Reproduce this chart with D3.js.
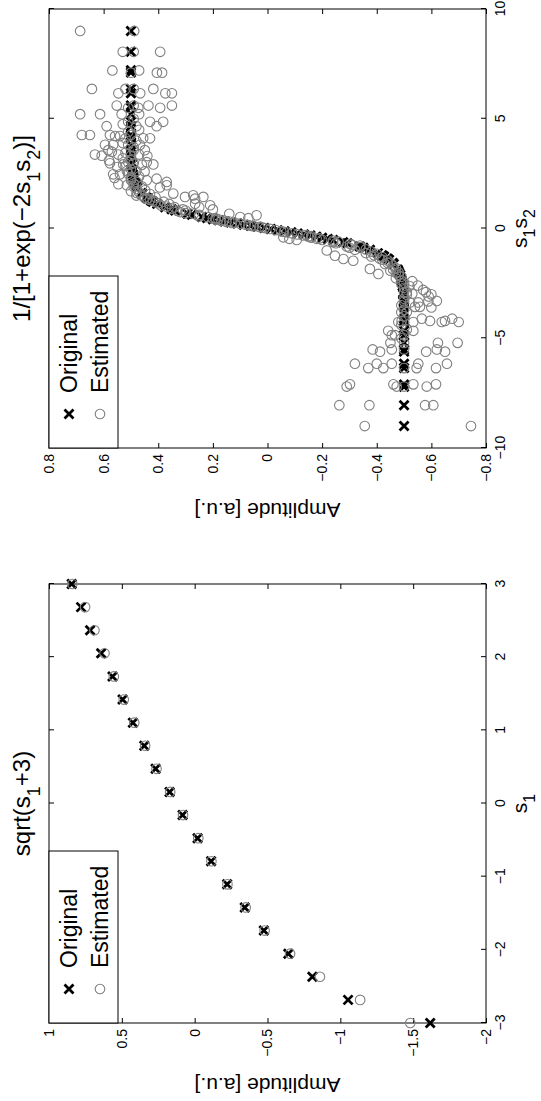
<!DOCTYPE html>
<html>
<head>
<meta charset="utf-8">
<script src="https://cdn.jsdelivr.net/npm/d3@7"></script>
<style>
  body { margin: 0; background: #fff; }
  svg text { font-family: "Liberation Sans", Arial, Helvetica, sans-serif; }
</style>
</head>
<body>
<svg width="541" height="1101"></svg>
<script>
// ---- data: left panel, sqrt(s1+3) ----
var s1Values = [-3, -2.684, -2.368, -2.053, -1.737, -1.421, -1.105, -0.789, -0.474, -0.158,
                0.158, 0.474, 0.789, 1.105, 1.421, 1.737, 2.053, 2.368, 2.684, 3];
var sqrtOriginal = [-1.617, -1.053, -0.808, -0.643, -0.475, -0.344, -0.223, -0.113, -0.02, 0.083,
                    0.172, 0.268, 0.346, 0.424, 0.495, 0.564, 0.642, 0.718, 0.78, 0.844];
var sqrtEstimated = [-1.48, -1.136, -0.86, -0.655, -0.48, -0.35, -0.225, -0.115, -0.025, 0.08,
                     0.168, 0.262, 0.34, 0.415, 0.487, 0.555, 0.619, 0.688, 0.752, 0.84];
var sqrtXTicks = [-3, -2, -1, 0, 1, 2, 3];
var sqrtYTicks = [-2, -1.5, -1, -0.5, 0, 0.5, 1];

// ---- data: right panel, 1/[1+exp(-2 s1 s2)] ----
var prodOriginal = [0.025, 0.075, 0.125, 0.175, 0.224, 0.274, 0.324, 0.374, 0.424, 0.474,
  0.524, 0.623, 0.673, 0.823, 0.873, 0.972, 1.122, 1.222, 1.271, 1.371,
  1.421, 1.571, 1.62, 1.87, 1.92, 2.019, 2.119, 2.269, 2.368, 2.468,
  2.618, 2.917, 2.967, 3.017, 3.316, 3.366, 3.565, 3.814, 4.114, 4.213,
  4.263, 4.662, 4.862, 5.211, 5.51, 5.609, 6.158, 6.357, 7.105, 7.205, 8.053, 9,
  -0.025, -0.075, -0.125, -0.175, -0.224, -0.274, -0.324, -0.374, -0.424, -0.474,
  -0.524, -0.623, -0.673, -0.823, -0.873, -0.972, -1.122, -1.222, -1.271, -1.371,
  -1.421, -1.571, -1.62, -1.87, -1.92, -2.019, -2.119, -2.269, -2.368, -2.468,
  -2.618, -2.917, -2.967, -3.017, -3.316, -3.366, -3.565, -3.814, -4.114, -4.213,
  -4.263, -4.662, -4.862, -5.211, -5.51, -5.609, -6.158, -6.357, -7.105, -7.205, -8.053, -9];
var sigOriginal = [0.012, 0.037, 0.062, 0.087, 0.11, 0.134, 0.157, 0.179, 0.2, 0.221,
  0.24, 0.277, 0.293, 0.338, 0.351, 0.375, 0.404, 0.42, 0.427, 0.439,
  0.445, 0.459, 0.462, 0.476, 0.479, 0.482, 0.486, 0.489, 0.491, 0.493,
  0.495, 0.497, 0.497, 0.498, 0.499, 0.499, 0.5, 0.5, 0.5, 0.5,
  0.5, 0.5, 0.5, 0.5, 0.5, 0.5, 0.5, 0.5, 0.5, 0.5, 0.5, 0.5,
  -0.012, -0.037, -0.062, -0.087, -0.11, -0.134, -0.157, -0.179, -0.2, -0.221,
  -0.24, -0.277, -0.293, -0.338, -0.351, -0.375, -0.404, -0.42, -0.427, -0.439,
  -0.445, -0.459, -0.462, -0.476, -0.479, -0.482, -0.486, -0.489, -0.491, -0.493,
  -0.495, -0.497, -0.497, -0.498, -0.499, -0.499, -0.5, -0.5, -0.5, -0.5,
  -0.5, -0.5, -0.5, -0.5, -0.5, -0.5, -0.5, -0.5, -0.5, -0.5, -0.5, -0.5];

// estimated points [s1*s2, amplitude]
var sigEstimated = [
  [9, 0.686], [9, 0.488], [8.05, 0.53], [8.05, 0.49], [8.05, 0.393],
  [7.2, 0.568], [7.1, 0.5], [7.2, 0.47], [7.1, 0.405], [7.1, 0.386],
  [6.36, 0.643], [6.16, 0.546], [6.36, 0.52], [6.16, 0.466], [6.36, 0.418], [6.16, 0.374], [6.16, 0.35], [6.36, 0.49],
  [5.6, 0.552], [5.5, 0.473], [5.6, 0.436], [5.5, 0.393], [5.6, 0.35], [5.5, 0.51], [5.6, 0.49],
  [5.21, 0.686], [5.21, 0.613], [5.21, 0.534], [5.21, 0.47],
  [4.86, 0.51], [4.86, 0.43], [4.66, 0.589], [4.66, 0.406], [4.86, 0.382], [4.66, 0.48],
  [4.26, 0.68], [4.26, 0.65], [4.26, 0.577], [4.21, 0.558], [4.21, 0.54], [4.11, 0.455], [4.11, 0.43], [4.26, 0.5], [4.11, 0.52],
  [3.81, 0.595], [3.81, 0.565], [3.81, 0.467], [3.81, 0.51],
  [3.57, 0.583], [3.57, 0.49], [3.57, 0.449], [3.37, 0.632], [3.32, 0.607], [3.37, 0.546], [3.32, 0.5], [3.37, 0.47],
  [3.02, 0.442], [2.97, 0.577], [2.92, 0.528], [2.92, 0.418], [2.97, 0.49], [3.02, 0.51],
  [2.62, 0.515], [2.47, 0.565], [2.47, 0.54], [2.37, 0.47], [2.62, 0.48], [2.27, 0.5],
  [2.12, 0.479], [2.2, 0.442], [2.27, 0.406], [2.12, 0.369], [2.02, 0.546], [1.97, 0.515], [1.92, 0.46], [1.87, 0.394], [1.97, 0.369],
  [1.62, 0.479], [1.74, 0.448], [1.57, 0.43], [1.59, 0.345], [1.44, 0.302], [1.36, 0.265], [1.44, 0.235], [1.51, 0.272],
  [1.42, 0.41], [1.37, 0.44], [1.27, 0.42],
  [1.22, 0.38], [1.13, 0.265], [1.06, 0.21], [1.12, 0.36], [0.97, 0.34], [0.97, 0.25], [0.87, 0.31], [0.82, 0.3], [0.87, 0.2],
  [0.67, 0.27], [0.62, 0.25], [0.67, 0.14], [0.52, 0.22], [0.52, 0.1], [0.47, 0.19], [0.47, 0.07], [0.42, 0.18],
  [0.37, 0.16], [0.32, 0.14], [0.27, 0.12], [0.22, 0.1], [0.17, 0.08], [0.12, 0.06], [0.07, 0.03], [0.02, 0.01], [0.6, 0.04],
  [0.55, 0.25], [0.7, 0.3], [0.75, 0.32], [0.8, 0.33], [0.9, 0.35], [1.0, 0.37], [1.05, 0.39], [1.15, 0.4],
  [1.2, 0.41], [1.3, 0.43], [1.4, 0.45], [1.5, 0.46], [1.65, 0.47], [1.8, 0.48], [1.9, 0.49], [2.05, 0.49],
  [2.2, 0.5], [2.35, 0.5], [2.5, 0.51], [2.7, 0.5], [2.85, 0.52], [3.1, 0.5], [3.2, 0.53], [3.45, 0.52],
  [3.7, 0.49], [3.9, 0.53], [4.0, 0.48], [4.4, 0.51], [4.5, 0.47], [4.75, 0.53], [5.0, 0.49],
  [2.3, 0.56], [2.8, 0.55], [3.1, 0.58], [3.5, 0.57], [2.6, 0.45], [2.9, 0.46], [3.3, 0.44], [1.7, 0.5], [1.5, 0.48],
  [0.3, 0.15], [0.35, 0.17], [0.4, 0.19], [0.45, 0.2], [0.25, 0.13], [0.15, 0.07], [0.1, 0.05], [0.05, 0.02],
  [-0.02, -0.01], [-0.07, -0.03], [-0.12, -0.05], [-0.17, -0.07], [-0.22, -0.09], [-0.27, -0.11], [-0.32, -0.13],
  [-0.37, -0.15], [-0.42, -0.16], [-0.4, -0.058], [-0.47, -0.08], [-0.47, -0.18], [-0.52, -0.107], [-0.52, -0.2],
  [-0.62, -0.24], [-0.67, -0.25], [-0.7, -0.302], [-0.78, -0.339], [-0.82, -0.29], [-0.87, -0.3], [-0.97, -0.32],
  [-1.0, -0.217], [-1.12, -0.36], [-1.24, -0.247], [-1.22, -0.39], [-1.27, -0.38], [-1.39, -0.278], [-1.37, -0.41],
  [-1.42, -0.42], [-1.47, -0.314], [-1.57, -0.44], [-1.62, -0.43], [-1.84, -0.375], [-1.87, -0.46], [-1.92, -0.45],
  [-2.02, -0.47], [-2.07, -0.406], [-2.12, -0.48], [-2.27, -0.47], [-2.37, -0.49], [-2.47, -0.5], [-2.62, -0.52],
  [-2.92, -0.5], [-2.97, -0.53], [-3.02, -0.51],
  [-0.55, -0.24], [-0.6, -0.26], [-0.75, -0.31], [-0.85, -0.34], [-0.95, -0.36], [-1.05, -0.38], [-1.15, -0.4],
  [-1.3, -0.42], [-1.45, -0.44], [-1.55, -0.45], [-1.7, -0.46], [-1.8, -0.47], [-2.0, -0.48], [-2.2, -0.49],
  [-2.5, -0.49], [-2.7, -0.5], [-2.9, -0.51], [-3.2, -0.5], [-3.5, -0.49], [-3.7, -0.5], [-4.0, -0.5],
  [-4.4, -0.49], [-4.6, -0.51], [-5.0, -0.49], [-0.3, -0.14], [-0.35, -0.16], [-0.45, -0.19], [-0.15, -0.06],
  [-2.4, -0.53], [-2.6, -0.55], [-2.8, -0.57], [-2.9, -0.58], [-3.0, -0.6], [-3.1, -0.59], [-3.3, -0.62], [-3.6, -0.6],
  [-3.37, -0.522], [-3.37, -0.552], [-3.32, -0.589], [-3.32, -0.5],
  [-3.81, -0.51], [-3.57, -0.54], [-3.57, -0.558], [-3.81, -0.49],
  [-4.26, -0.479], [-4.21, -0.491], [-4.26, -0.534], [-4.11, -0.565], [-4.21, -0.595], [-4.26, -0.638], [-4.21, -0.65], [-4.11, -0.676], [-4.26, -0.7],
  [-4.66, -0.442], [-4.86, -0.455], [-4.86, -0.467], [-4.66, -0.534], [-4.86, -0.5],
  [-5.21, -0.624], [-5.21, -0.696], [-5.21, -0.5], [-5.21, -0.45],
  [-5.51, -0.385], [-5.61, -0.412], [-5.51, -0.455], [-5.61, -0.581], [-5.51, -0.62], [-5.61, -0.65], [-5.51, -0.5],
  [-6.16, -0.32], [-6.36, -0.369], [-6.16, -0.4], [-6.36, -0.424], [-6.16, -0.455], [-6.36, -0.546], [-6.16, -0.552], [-6.36, -0.617], [-6.16, -0.657], [-6.36, -0.5],
  [-7.2, -0.29], [-7.1, -0.302], [-7.1, -0.461], [-7.2, -0.473], [-7.1, -0.534], [-7.2, -0.583], [-7.1, -0.617], [-7.2, -0.5],
  [-8.05, -0.263], [-8.05, -0.373], [-8.05, -0.577], [-8.05, -0.607],
  [-9, -0.356], [-9, -0.745]
];
var sigXTicks = [-10, -5, 0, 5, 10];
var sigYTicks = [-0.8, -0.6, -0.4, -0.2, 0, 0.2, 0.4, 0.6, 0.8];

var legendLabels = ["Original", "Estimated"];

// ---- drawing ----
// the whole figure is laid out landscape (1101 x 541) and turned a quarter to the left
var FW = 1101;
var svg = d3.select("svg");
var fig = svg.append("g").attr("transform", "translate(0," + FW + ") rotate(-90)");

var crossPath = "M-4.5,-4.5L4.5,4.5M-4.5,4.5L4.5,-4.5";
var estColor = "#808080";
var fmt = d3.format("~g");

function richText(sel, parts, size) {
  // parts: [text, isSubscript]
  var shift = 0;
  parts.forEach(function(p) {
    var want = p[1] ? Math.round(size * 0.4) : 0;
    sel.append("tspan")
      .attr("dy", want - shift)
      .attr("font-size", p[1] ? Math.round(size * 0.75) : size)
      .text(p[0]);
    shift = want;
  });
}

function drawPanel(cfg) {
  var x = d3.scaleLinear().domain(cfg.xDomain).range([cfg.left, cfg.right]);
  var y = d3.scaleLinear().domain(cfg.yDomain).range([cfg.bottom, cfg.top]);
  var g = fig.append("g");

  function styleAxis(a) {
    a.select(".domain").remove();
    a.selectAll(".tick line").attr("stroke", "#000");
    a.selectAll(".tick text").attr("font-size", 14).attr("fill", "#000")
      .attr("font-family", "'Liberation Sans', Arial, sans-serif");
  }

  g.append("g").attr("transform", "translate(0," + cfg.bottom + ")")
    .call(d3.axisBottom(x).tickValues(cfg.xTicks).tickFormat(fmt).tickSizeInner(-5).tickSizeOuter(0).tickPadding(9))
    .call(styleAxis);
  g.append("g").attr("transform", "translate(0," + cfg.top + ")")
    .call(d3.axisTop(x).tickValues(cfg.xTicks).tickFormat("").tickSizeInner(-5).tickSizeOuter(0))
    .call(styleAxis);
  g.append("g").attr("transform", "translate(" + cfg.left + ",0)")
    .call(d3.axisLeft(y).tickValues(cfg.yTicks).tickFormat(fmt).tickSizeInner(-5).tickSizeOuter(0).tickPadding(6))
    .call(styleAxis);
  g.append("g").attr("transform", "translate(" + cfg.right + ",0)")
    .call(d3.axisRight(y).tickValues(cfg.yTicks).tickFormat("").tickSizeInner(-5).tickSizeOuter(0))
    .call(styleAxis);

  g.append("rect")
    .attr("x", cfg.left).attr("y", cfg.top)
    .attr("width", cfg.right - cfg.left).attr("height", cfg.bottom - cfg.top)
    .attr("fill", "none").attr("stroke", "#000").attr("stroke-width", 1);

  // original values: black crosses
  g.append("g").selectAll("path")
    .data(cfg.orig)
    .enter().append("path")
      .attr("d", crossPath)
      .attr("transform", function(d) { return "translate(" + x(d[0]) + "," + y(d[1]) + ")"; })
      .attr("stroke", "#000").attr("stroke-width", 2.8).attr("fill", "none");

  // estimated values: grey circles
  g.append("g").selectAll("circle")
    .data(cfg.est)
    .enter().append("circle")
      .attr("cx", function(d) { return x(d[0]); })
      .attr("cy", function(d) { return y(d[1]); })
      .attr("r", 4.8)
      .attr("fill", "none").attr("stroke", estColor).attr("stroke-width", 1.1);

  // title, labels
  var cx = (cfg.left + cfg.right) / 2, cy = (cfg.top + cfg.bottom) / 2;
  richText(g.append("text").attr("x", cx).attr("y", cfg.top - 19).attr("text-anchor", "middle"), cfg.title, 24);
  richText(g.append("text").attr("x", cx).attr("y", cfg.bottom + 41).attr("text-anchor", "middle"), cfg.xlabel, 21);
  g.append("text")
    .attr("transform", "translate(" + (cfg.left - 55) + "," + cy + ") rotate(-90)")
    .attr("text-anchor", "middle").attr("font-size", 21)
    .text("Amplitude [a.u.]");

  // legend, top-left corner
  var lg = g.append("g").attr("transform", "translate(" + cfg.left + "," + cfg.top + ")");
  lg.append("rect").attr("width", 172).attr("height", 69)
    .attr("fill", "#fff").attr("stroke", "#000").attr("stroke-width", 1);
  lg.append("path").attr("d", crossPath).attr("transform", "translate(34,20)")
    .attr("stroke", "#000").attr("stroke-width", 2.8).attr("fill", "none");
  lg.append("circle").attr("cx", 34).attr("cy", 51).attr("r", 4.8)
    .attr("fill", "none").attr("stroke", estColor).attr("stroke-width", 1.1);
  lg.selectAll("text.lab").data(legendLabels).enter().append("text")
    .attr("class", "lab")
    .attr("x", 55).attr("y", function(d, i) { return 28 + i * 31; })
    .attr("font-size", 23)
    .text(function(d) { return d; });
}

drawPanel({
  left: 78, right: 517, top: 49, bottom: 486,
  xDomain: [-3, 3], yDomain: [-2, 1],
  xTicks: sqrtXTicks, yTicks: sqrtYTicks,
  orig: s1Values.map(function(s, i) { return [s, sqrtOriginal[i]]; }),
  est: s1Values.map(function(s, i) { return [s, sqrtEstimated[i]]; }),
  title: [["sqrt(s", false], ["1", true], ["+3)", false]],
  xlabel: [["s", false], ["1", true]]
});

drawPanel({
  left: 653, right: 1092, top: 49, bottom: 486,
  xDomain: [-10, 10], yDomain: [-0.8, 0.8],
  xTicks: sigXTicks, yTicks: sigYTicks,
  orig: prodOriginal.map(function(s, i) { return [s, sigOriginal[i]]; }),
  est: sigEstimated,
  title: [["1/[1+exp(\u22122s", false], ["1", true], ["s", false], ["2", true], [")]", false]],
  xlabel: [["s", false], ["1", true], ["s", false], ["2", true]]
});
</script>
</body>
</html>
